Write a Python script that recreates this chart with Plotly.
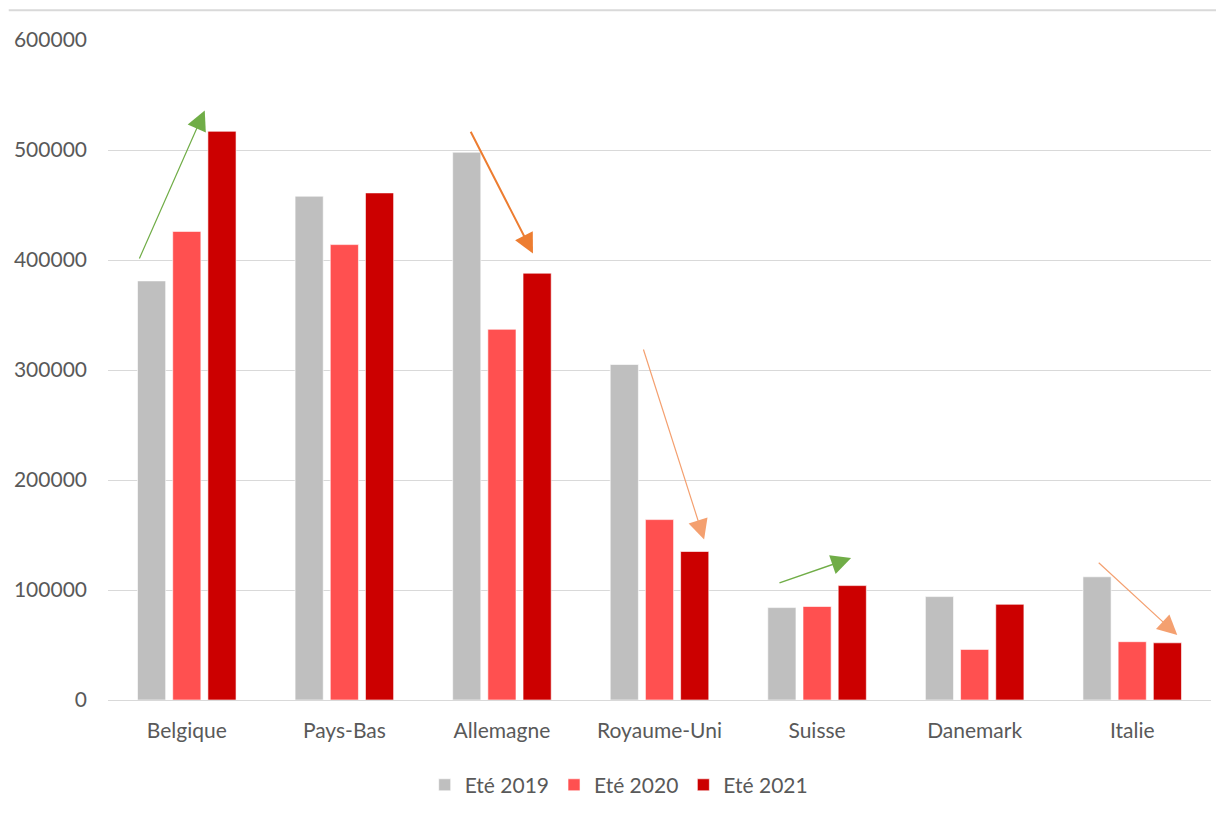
import plotly.graph_objects as go

# Données
pays = ["Belgique", "Pays-Bas", "Allemagne", "Royaume-Uni", "Suisse", "Danemark", "Italie"]
ete_2019 = [381000, 458000, 498000, 305000, 84000, 94000, 112000]
ete_2020 = [426000, 414000, 337000, 164000, 85000, 46000, 53000]
ete_2021 = [517000, 461000, 388000, 135000, 104000, 87000, 52000]

series = [
    ("Eté 2019", ete_2019, "#BFBFBF"),
    ("Eté 2020", ete_2020, "#FF5050"),
    ("Eté 2021", ete_2021, "#CC0000"),
]

# Flèches de tendance : (x départ, y départ, x pointe, y pointe, couleur, épaisseur)
fleches = [
    (-0.305, 400000, 0.114, 536000, "#70AD47", 1.2),
    (1.797, 518000, 2.197, 406000, "#ED7D31", 2.0),
    (2.895, 320000, 3.283, 146000, "#F4A070", 1.2),
    (3.752, 106000, 4.216, 129000, "#70AD47", 1.5),
    (5.778, 126000, 6.286, 59000, "#F4A070", 1.2),
]

fig = go.Figure()

for nom, valeurs, couleur in series:
    fig.add_trace(go.Bar(
        x=pays,
        y=valeurs,
        name=nom,
        marker=dict(color=couleur, line=dict(color="rgba(255,255,255,0.6)", width=1)),
    ))

for x0, y0, x1, y1, couleur, epaisseur in fleches:
    fig.add_annotation(
        x=x1, y=y1, ax=x0, ay=y0,
        xref="x", yref="y", axref="x", ayref="y",
        showarrow=True, arrowhead=2, arrowsize=1.8 / epaisseur * 2.2,
        arrowwidth=epaisseur, arrowcolor=couleur, text="",
    )

# Bordure grise en haut (cadre du graphique Excel)
fig.add_shape(type="line", xref="paper", yref="paper",
              x0=-0.09, x1=1.03, y0=1.045, y1=1.045,
              line=dict(color="#D9D9D9", width=2))

police = dict(family="Lato, 'Open Sans', sans-serif", size=21, color="#595959")

fig.update_layout(
    width=1224, height=818,
    barmode="group", bargap=0.33, bargroupgap=0.2,
    plot_bgcolor="white", paper_bgcolor="white",
    margin=dict(l=100, r=21, t=32, b=126, autoexpand=False),
    font=police,
    showlegend=True,
    legend=dict(orientation="h", x=0.463, xanchor="center", y=-0.129, yanchor="middle",
                font=police, itemwidth=30, tracegroupgap=0),
    xaxis=dict(showgrid=False, showline=False, ticks="", ticklabelstandoff=16,
               tickfont=police, automargin=False),
    yaxis=dict(range=[0, 600000], dtick=100000, tickformat="d",
               showgrid=True, gridcolor="#D9D9D9", gridwidth=1,
               zeroline=True, zerolinecolor="#D9D9D9", zerolinewidth=1,
               showline=False, ticks="", ticklabelstandoff=20, tickfont=police,
               automargin=False),
)

fig.write_html("out.html")
